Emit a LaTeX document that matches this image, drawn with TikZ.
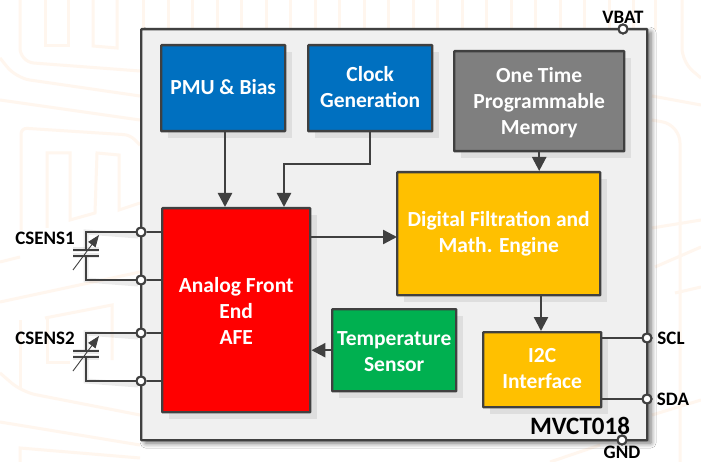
\documentclass[tikz,border=0pt]{standalone}
\usepackage{fontspec}
\setmainfont{Carlito}
\usetikzlibrary{arrows.meta,calc,shadows.blur}
\definecolor{ln}{HTML}{404040}
\definecolor{bluebox}{HTML}{0070C0}
\definecolor{greybox}{HTML}{7F7F7F}
\definecolor{ambox}{HTML}{FFC000}
\definecolor{redbox}{HTML}{FF0000}
\definecolor{greenbox}{HTML}{00B050}
\definecolor{chipbg}{HTML}{F0F0F0}
\definecolor{boxsh}{HTML}{DEDEDE}
\definecolor{wm}{HTML}{FFF6EE}
\tikzset{
  x=1pt,y=-1pt,
  block/.style={draw=ln,line width=2.4pt,rounded corners=0.6pt,text=white,font=\fontsize{21.5}{26}\selectfont\bfseries,align=center,inner sep=0pt},
  wire/.style={draw=ln,line width=2.4pt},
  arr/.style={wire,-{Triangle[length=14pt,width=14pt]}},
  pin/.style={circle,draw=ln,fill=white,line width=2pt,minimum size=9pt,inner sep=0pt},
  lab/.style={text=black,font=\fontsize{19}{20}\selectfont\bfseries,inner sep=0pt},
  plate/.style={draw=ln,line width=2.4pt},
  trim/.style={draw=ln,line width=0.9pt,-{Triangle[length=12pt,width=9pt]}},
  wmark/.style={draw=wm,line width=3pt},
  softsh/.style={draw=black,opacity=.08,line width=5pt},
}
\newcommand{\blockat}[6]{%
  \fill[boxsh] (#2+7,#3+7) rectangle (#4+7,#5+7);
  \node[block,fill=#6,minimum width=#4pt-#2pt,minimum height=#5pt-#3pt,anchor=north west] (#1) at (#2-1,#3-1) {};
}
\begin{document}
\begin{tikzpicture}
\useasboundingbox (0,0) rectangle (701,462);
\fill[white] (0,0) rectangle (701,462);
% faint watermark
\foreach \xx in {143,168,192,217,241,266,290,315,339,364,388,413,437,462,486,511,535,560,584,609,633,655}
  \draw[wmark] (\xx,0) -- (\xx,30);
\begin{scope}[rounded corners=14pt]
\draw[wmark] (20,0) -- (20,62) -- (140,71);
\draw[wmark] (0,58) -- (16,78) -- (140,96);
\end{scope}
\draw[wmark] (45,0) -- (45,46) -- (68,46) -- (68,0);
\draw[wmark] (93,0) -- (93,46) -- (117,48) -- (117,0);
\draw[wmark] (0,100) -- (140,120);
\draw[wmark,rounded corners=6pt] (21,230) -- (21,128) -- (130,135) -- (140,145);
\draw[wmark] (47,228) -- (47,153) -- (70,153) -- (70,220) -- (95,213) -- (97,153) -- (119,155) -- (119,210) -- (140,203);
\draw[wmark] (0,262) -- (20,257);
\draw[wmark] (0,302) -- (140,272);
\draw[wmark] (20,320) -- (20,390);
\draw[wmark] (47,318) -- (47,362) -- (70,362);
\draw[wmark] (45,318) -- (112,305) -- (112,360);
\draw[wmark,rounded corners=14pt] (0,373) -- (22,392) -- (140,415);
\draw[wmark] (0,422) -- (140,445);
\draw[wmark] (20,462) -- (20,448) -- (140,458);
\draw[wmark,rounded corners=14pt] (682,0) -- (682,62) -- (701,78);
\draw[wmark] (652,96) -- (701,105);
\draw[wmark,rounded corners=18pt] (652,120) -- (680,125) -- (680,462);
\draw[wmark] (652,228) -- (701,220);
\draw[wmark] (655,267) -- (701,247);
\draw[wmark] (675,293) -- (701,287);
\draw[wmark] (652,415) -- (701,400);
\draw[wmark] (550,462) -- (600,445);
% chip
\node[draw=ln,line width=2.4pt,fill=chipbg,rounded corners=0.6pt,minimum width=506pt,minimum height=411pt,anchor=north west,inner sep=0pt,blur shadow={shadow blur steps=8,shadow xshift=4pt,shadow yshift=-3pt,shadow blur radius=5pt,shadow opacity=55}] (chip) at (140,28) {};
% blocks
\blockat{pmu}{161}{45}{285}{131}{bluebox}
\blockat{clk}{308}{45}{432}{131}{bluebox}
\blockat{otp}{454}{51}{624}{151}{greybox}
\blockat{dfe}{397}{172}{600}{295}{ambox}
\blockat{afe}{162}{208}{310}{412}{redbox}
\blockat{tmp}{332}{309}{456}{391}{greenbox}
\blockat{iic}{483}{332}{601}{407}{ambox}
\node[block,draw=none] at ($(pmu.center)+(0,-1)$) {PMU \& Bias};
\node[block,draw=none] at ($(clk.center)+(0,-1)$) {Clock\\Generation};
\node[block,draw=none] at ($(otp.center)+(0,1)$) {One Time\\Programmable\\Memory};
\node[block,draw=none] at (dfe.center) {Digital Filtration and\\Math. Engine};
\node[block,draw=none] at ($(afe.center)+(0,1)$) {Analog Front\\End\\AFE};
\node[block,draw=none] at ($(tmp.center)+(0,1)$) {Temperature\\Sensor};
\node[block,draw=none] at ($(iic.center)+(0,-1)$) {I2C\\Interface};
% pins
\node[pin] (p1) at (141,232) {};
\node[pin] (p2) at (141,280) {};
\node[pin] (p3) at (141,333) {};
\node[pin] (p4) at (141,381) {};
\node[pin] (pscl) at (647,338) {};
\node[pin] (psda) at (647,399) {};
\node[pin] (pvbat) at (623,29) {};
\node[pin] (pgnd) at (622,440) {};
% labels
\node[lab] (lc1) at (45,238) {CSENS1};
\node[lab] (lc2) at (45,338) {CSENS2};
\node[lab] (lvb) at (623,17) {VBAT};
\node[lab] (lgn) at (622,452.5) {GND};
\node[lab] (lscl) at (671,338) {SCL};
\node[lab] (lsda) at (673,399) {SDA};
\node[text=black,font=\fontsize{25}{26}\selectfont\bfseries,inner sep=0pt] (lmv) at (580,426) {MVCT018};
% connectors
\coordinate (pmuo) at (225,131);
\draw[arr] (pmuo) -- (pmuo |- afe.north);
\coordinate (ckbend) at (284,164);
\draw[arr] (clk.south) |- (ckbend) -- (ckbend |- afe.north);
\draw[arr] (otp.south) -- (otp.south |- dfe.north);
\coordinate (dfein) at (397,237);
\draw[arr] (afe.east |- dfein) -- (dfein);
\coordinate (iicin) at (541,295);
\draw[arr] (iicin) -- (iicin |- iic.north);
\draw[arr] (tmp.west) -- (tmp.west -| afe.east);
\draw[wire] (iic.east |- pscl) -- (pscl);
\draw[wire] (iic.east |- psda) -- (psda);
\foreach \p in {p1,p2,p3,p4} \draw[wire] (\p) -- (\p -| afe.west);
% capacitors
\foreach \a/\b/\t in {p1/p2/232,p3/p4/333}{
  \coordinate (ca) at (86,\t);
  \coordinate (cb) at (86,\t+48);
  \coordinate (pa) at (86,\t+18);
  \coordinate (pb) at (86,\t+24);
  \draw[softsh,shift={(4,4)}] (134,\t) -- (ca) -- (pa);
  \draw[softsh,shift={(4,4)}] (134,\t+48) -- (cb) -- (pb);
  \draw[softsh,shift={(4,4)}] ($(pa)+(-13,0)$) -- ($(pa)+(13,0)$);
  \draw[softsh,shift={(4,4)}] ($(pb)+(-13,0)$) -- ($(pb)+(13,0)$);
  \draw[wire] (\a) -- (ca) -- (pa);
  \draw[wire] (\b) -- (cb) -- (pb);
  \draw[plate] ($(pa)+(-13,0)$) -- ($(pa)+(13,0)$);
  \draw[plate] ($(pb)+(-13,0)$) -- ($(pb)+(13,0)$);
  \draw[trim] ($(pa)+(-13,20)$) -- ($(pa)+(13,-15)$);
}
\foreach \p in {p1,p2,p3,p4,pscl,psda,pvbat,pgnd} \node[pin] at (\p) {};
\end{tikzpicture}
\end{document}
